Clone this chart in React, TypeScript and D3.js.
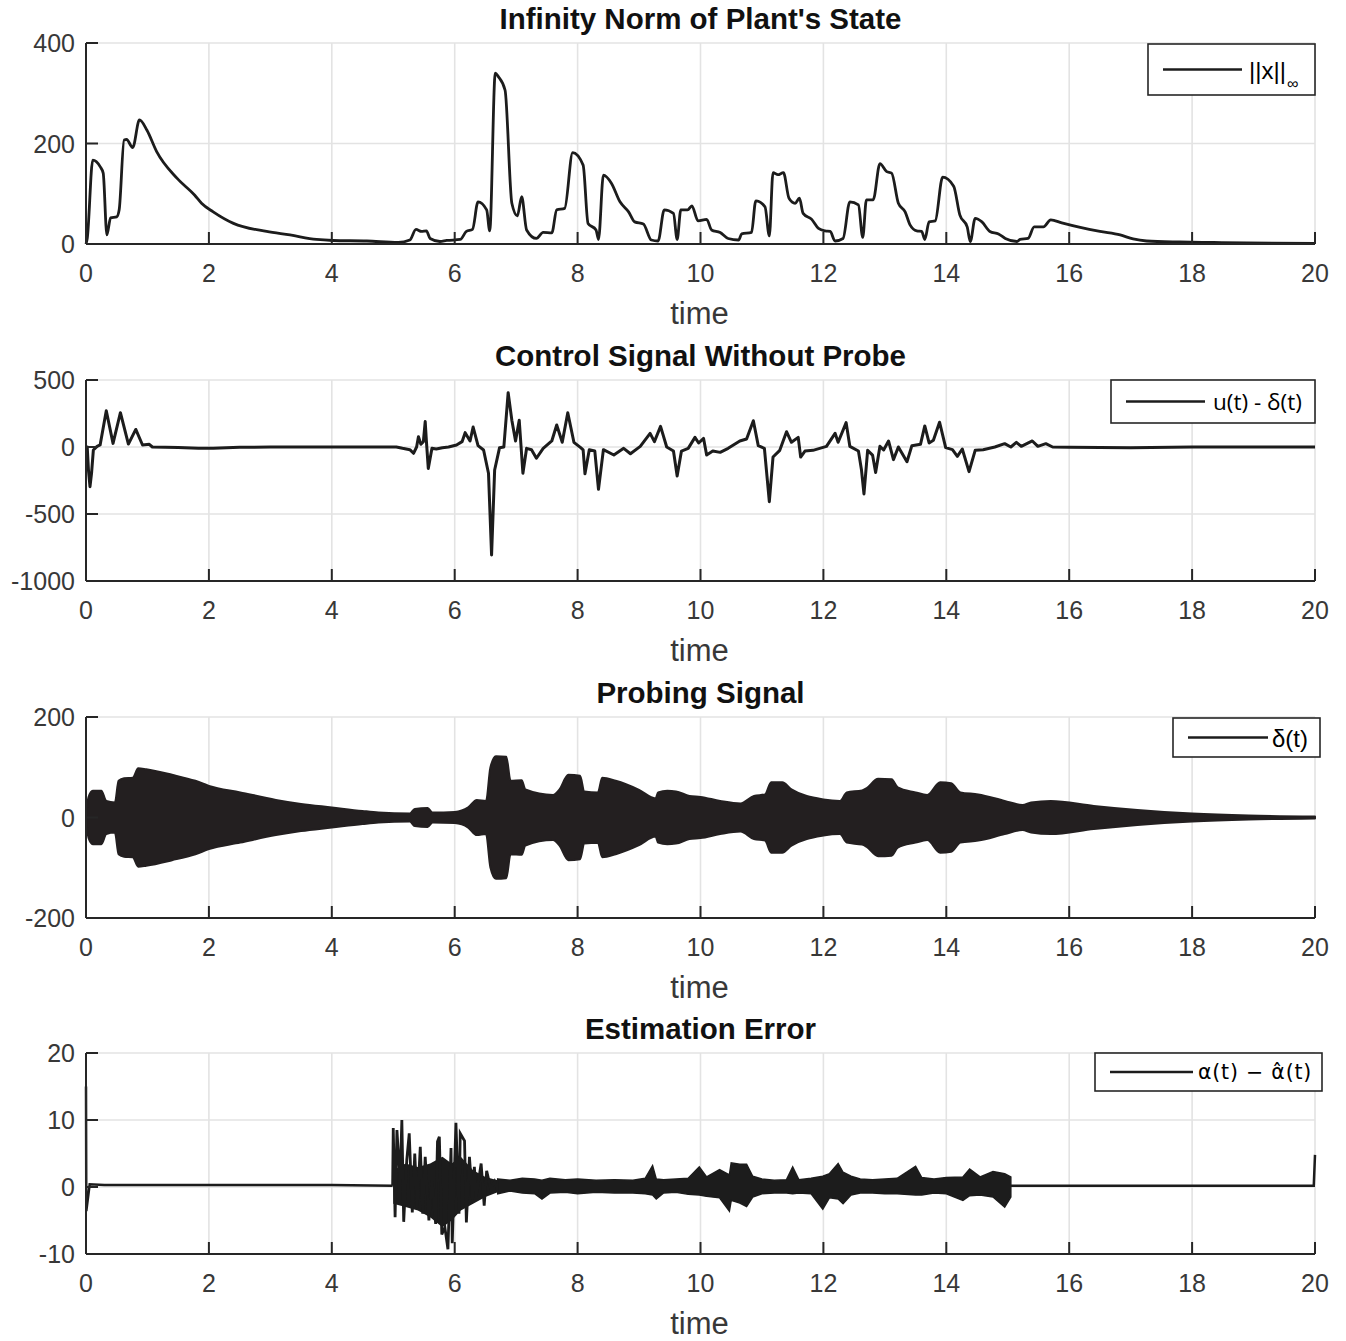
import * as d3 from "d3";

// ---- data ----
const timeTicks = [0, 2, 4, 6, 8, 10, 12, 14, 16, 18, 20];

const normTicks = [0, 200, 400];
const normX: [number, number][] = [
  [0, 0], [0.02, 11], [0.11, 167], [0.23, 154], [0.28, 141], [0.34, 18], [0.4, 52], [0.5, 54],
  [0.54, 68], [0.62, 207], [0.66, 208], [0.76, 192], [0.87, 247], [0.99, 227], [1.15, 184],
  [1.48, 131], [1.77, 97], [1.88, 81], [2.07, 64], [2.4, 41], [2.94, 25], [3.32, 18], [3.75, 9],
  [4.02, 7], [4.57, 6], [5.08, 3], [5.27, 8], [5.37, 29], [5.46, 25], [5.54, 26], [5.6, 11],
  [5.76, 5], [5.87, 7], [6.09, 9], [6.19, 25], [6.29, 29], [6.38, 84], [6.52, 68], [6.57, 26],
  [6.66, 340], [6.71, 333], [6.82, 306], [6.93, 81], [7.02, 56], [7.09, 94], [7.17, 28],
  [7.33, 11], [7.44, 23], [7.58, 22], [7.66, 68], [7.79, 71], [7.92, 182], [8.09, 157],
  [8.17, 41], [8.3, 28], [8.34, 9], [8.42, 137], [8.55, 121], [8.69, 84], [8.83, 64], [8.93, 44],
  [9.07, 40], [9.2, 8], [9.31, 6], [9.41, 68], [9.56, 61], [9.62, 9], [9.68, 68], [9.79, 68],
  [9.86, 76], [9.96, 46], [10.1, 49], [10.18, 28], [10.32, 23], [10.45, 11], [10.62, 8],
  [10.67, 20], [10.83, 23], [10.9, 86], [11.05, 74], [11.12, 16], [11.18, 142], [11.26, 138],
  [11.35, 142], [11.44, 91], [11.54, 81], [11.61, 91], [11.67, 61], [11.81, 49], [11.92, 31],
  [12.03, 26], [12.11, 25], [12.19, 6], [12.32, 11], [12.43, 84], [12.57, 78], [12.64, 13],
  [12.7, 88], [12.81, 88], [12.92, 160], [13.03, 144], [13.11, 141], [13.22, 81], [13.33, 64],
  [13.41, 38], [13.52, 26], [13.6, 25], [13.65, 9], [13.72, 44], [13.82, 46], [13.94, 133],
  [14.12, 115], [14.22, 58], [14.34, 34], [14.39, 5], [14.47, 51], [14.58, 44], [14.71, 25],
  [14.85, 20], [14.96, 11], [15.15, 5], [15.2, 9], [15.33, 11], [15.43, 34], [15.58, 34],
  [15.7, 48], [15.88, 42], [16.18, 33], [16.5, 25], [16.83, 18], [17.04, 10], [17.26, 6],
  [17.8, 4], [18.35, 3], [18.89, 2], [20, 1],
];

const ctrlTicks = [-1000, -500, 0, 500];
const ctrlSignal: [number, number][] = [
  [0, 0], [0.02, 0], [0.04, -172], [0.065, -296], [0.09, -196], [0.12, -22], [0.18, 5], [0.23, 15],
  [0.33, 270], [0.44, 27], [0.56, 256], [0.69, 22], [0.81, 131], [0.92, 15], [1.03, 20], [1.08, 0],
  [1.5, -3], [1.83, -10], [2.07, -10], [2.5, -2], [3, 0], [4, 0], [5.05, 0], [5.15, -10],
  [5.27, -20], [5.33, -47], [5.38, 0], [5.41, 77], [5.45, 20], [5.49, 40], [5.52, 190], [5.54, 40],
  [5.57, -160], [5.63, -10], [5.7, -15], [5.8, -5], [5.9, 0], [6.03, 15], [6.12, 40], [6.17, 107],
  [6.25, 45], [6.3, 149], [6.38, 10], [6.47, -22], [6.55, -196], [6.6, -806], [6.65, -172],
  [6.73, -5], [6.8, 0], [6.87, 405], [6.93, 200], [6.99, 45], [7.05, 200], [7.11, -196],
  [7.17, -10], [7.25, -20], [7.33, -84], [7.44, -10], [7.58, 45], [7.66, 164], [7.75, 35],
  [7.84, 256], [7.94, 35], [8.05, -5], [8.09, -22], [8.12, -200], [8.19, -20], [8.28, -30],
  [8.34, -316], [8.42, -20], [8.59, -60], [8.75, -10], [8.86, -50], [9.02, 5], [9.18, 102],
  [9.25, 40], [9.35, 154], [9.45, 0], [9.56, -30], [9.62, -216], [9.69, -30], [9.8, -10],
  [9.91, 72], [9.97, 30], [10.05, 64], [10.1, -60], [10.2, -30], [10.32, -40], [10.45, -10],
  [10.64, 45], [10.75, 60], [10.86, 196], [10.94, 10], [11.04, -10], [11.12, -408], [11.18, -75],
  [11.29, -25], [11.4, 114], [11.48, 35], [11.59, 72], [11.63, -75], [11.7, -30], [11.83, -25],
  [12.05, 5], [12.19, 102], [12.24, 35], [12.37, 182], [12.43, 5], [12.57, -30], [12.62, -172],
  [12.66, -350], [12.72, -25], [12.8, -60], [12.85, -190], [12.92, 5], [12.98, -22], [13.06, 45],
  [13.14, -94], [13.22, 0], [13.36, -110], [13.44, 10], [13.58, 20], [13.65, 157], [13.72, 30],
  [13.79, 50], [13.89, 185], [13.99, -5], [14.1, -20], [14.18, -70], [14.26, -15], [14.37, -184],
  [14.47, -25], [14.6, -20], [14.79, 0], [14.95, 25], [15.05, 0], [15.14, 35], [15.22, 5],
  [15.4, 45], [15.49, 5], [15.62, 25], [15.73, 0], [16, -2], [17, -5], [18, 0], [20, 0],
];

// amplitude envelope of the (dense) probing sinusoid
const probeTicks = [-200, 0, 200];
const probeEnvelope: [number, number][] = [
  [0, 0], [0.04, 40], [0.11, 53], [0.25, 53], [0.33, 33], [0.47, 30], [0.53, 73], [0.62, 78],
  [0.76, 79], [0.85, 98], [0.98, 96], [1.4, 85], [1.78, 73], [2, 63], [2.51, 50], [3.09, 35],
  [3.5, 27], [4, 20], [4.5, 13], [4.76, 10], [5.27, 8], [5.35, 17], [5.56, 19], [5.64, 10],
  [6, 11], [6.22, 20], [6.36, 35], [6.51, 33], [6.58, 99], [6.67, 122], [6.84, 121], [6.91, 73],
  [7.09, 74], [7.15, 56], [7.6, 45], [7.7, 55], [7.85, 85], [8.04, 83], [8.11, 52], [8.33, 50],
  [8.4, 79], [8.62, 73], [9, 55], [9.27, 38], [9.31, 50], [9.46, 53], [9.6, 52], [9.82, 43],
  [10, 41], [10.32, 33], [10.65, 28], [10.87, 43], [11.05, 46], [11.15, 70], [11.33, 70],
  [11.48, 56], [12, 36], [12.27, 33], [12.38, 50], [12.63, 54], [12.7, 58], [12.89, 77],
  [13.11, 76], [13.21, 60], [13.5, 50], [13.69, 45], [13.9, 70], [14.08, 68], [14.23, 50],
  [14.52, 46], [14.95, 33], [15.24, 25], [15.38, 30], [15.7, 33], [16.4, 23], [17.11, 15],
  [18, 8], [18.92, 4], [20, 2],
];

const errTicks = [-10, 0, 10, 20];
const errStart: [number, number][] = [
  [0, 15], [0.005, -3.6], [0.06, 0.4], [0.3, 0.3], [1, 0.3], [2, 0.3], [3, 0.3], [4, 0.3],
  [4.99, 0.2],
];
const errBurst: [number, number][] = [
  [4.99, 0.2], [5.0, 8.8], [5.03, -4.5], [5.06, 8.5], [5.11, 0.8], [5.14, 10], [5.17, -5.2],
  [5.22, 4], [5.26, 8], [5.31, -3.8], [5.35, 5], [5.39, -3], [5.44, 6], [5.48, -4], [5.52, 4.5],
  [5.58, -5], [5.63, 1], [5.69, -5.5], [5.72, 6.8], [5.75, 7.5], [5.79, -7.1], [5.84, -6],
  [5.89, -9.3], [5.94, 5.8], [5.96, -8.4], [6.02, 9.6], [6.07, -4], [6.09, 8], [6.16, 6.9],
  [6.19, -5.3], [6.24, 4.5], [6.29, -2], [6.32, 3], [6.35, -1.4], [6.43, 3.5], [6.48, -2.8],
  [6.52, 2.4], [6.59, -0.4], [6.65, 0.8], [6.7, -0.5],
];
// dark core where the burst's oscillations overlap
const errBurstCore: [number, number, number][] = [
  [5.0, 2.5, -2.5], [5.2, 3.5, -3], [5.4, 3, -3.5], [5.6, 3.5, -4.5], [5.8, 4.5, -6],
  [5.95, 3.5, -5], [6.1, 4.5, -3.5], [6.3, 2.5, -2.5], [6.5, 1.5, -1.5], [6.7, 1, -0.8],
];
// upper / lower edges of the dense noise band
const errBand: [number, number, number][] = [
  [6.7, 1.2, -1.0], [6.9, 1.0, -0.6], [7.1, 1.3, -0.9], [7.3, 1.2, -1.0], [7.42, 1.0, -1.8],
  [7.55, 1.3, -0.9], [7.8, 1.1, -0.8], [8.0, 1.2, -1.0], [8.3, 1.0, -0.8], [8.6, 1.1, -0.9],
  [8.9, 1.0, -0.9], [9.1, 1.3, -1.0], [9.22, 3.2, -1.2], [9.28, 1.2, -1.8], [9.4, 1.1, -0.9],
  [9.6, 1.2, -0.8], [9.8, 1.3, -1.1], [9.98, 3.0, -1.2], [10.1, 1.5, -1.4], [10.31, 2.6, -1.6],
  [10.47, 1.8, -3.6], [10.5, 3.6, -2.0], [10.64, 3.4, -2.4], [10.75, 3.4, -2.9], [10.85, 1.6, -1.5],
  [11.0, 1.2, -1.0], [11.2, 1.0, -0.9], [11.4, 1.1, -0.9], [11.5, 3.0, -1.0], [11.6, 1.1, -0.9],
  [11.8, 1.3, -1.0], [11.99, 1.6, -3.3], [12.1, 2.0, -1.6], [12.24, 3.5, -1.8], [12.32, 2.2, -2.5],
  [12.45, 1.6, -1.2], [12.6, 1.2, -0.9], [12.8, 1.1, -0.9], [13.0, 1.2, -1.0], [13.2, 1.3, -1.0],
  [13.5, 3.1, -1.2], [13.6, 1.4, -1.2], [13.8, 1.2, -0.9], [14.0, 1.4, -1.0], [14.27, 1.5, -2.0],
  [14.38, 2.7, -1.3], [14.55, 1.5, -1.2], [14.76, 2.3, -1.5], [14.95, 2.0, -3.0], [15.05, 1.5, -1.5],
];
const errTail: [number, number][] = [
  [15.05, 0.2], [16, 0.2], [17, 0.2], [18, 0.2], [19, 0.2], [19.98, 0.2], [20, 4.8],
];

// ---- layout ----
const W = 1346;
const H = 1341;
const left = 86;
const right = 1315;
const plotH = 201;
const tops = [43, 380, 717, 1053];
const ink = "#262626";
const tickInk = "#383838";
const lineColor = "#1c1c1c";
const grid = "#e3e3e3";
const font = "'Liberation Sans', Arial, Helvetica, sans-serif";

const x = d3.scaleLinear().domain([0, 20]).range([left, right]);

type PanelProps = {
  top: number;
  title: string;
  yDomain: [number, number];
  yTicks: number[];
  children: (y: d3.ScaleLinear<number, number>) => React.ReactNode;
};

function Panel({ top, title, yDomain, yTicks, children }: PanelProps) {
  const bottom = top + plotH;
  const y = d3.scaleLinear().domain(yDomain).range([bottom, top]);
  return (
    <g>
      {timeTicks.map((t) => (
        <line key={"gx" + t} x1={x(t)} x2={x(t)} y1={top} y2={bottom} stroke={grid} strokeWidth={1.6} />
      ))}
      {yTicks.map((v) => (
        <line key={"gy" + v} x1={left} x2={right} y1={y(v)} y2={y(v)} stroke={grid} strokeWidth={1.6} />
      ))}
      {children(y)}
      <line x1={left} x2={left} y1={top} y2={bottom} stroke={ink} strokeWidth={2} />
      <line x1={left} x2={right} y1={bottom} y2={bottom} stroke={ink} strokeWidth={2} />
      {timeTicks.map((t) => (
        <g key={"tx" + t}>
          <line x1={x(t)} x2={x(t)} y1={bottom} y2={bottom - 12} stroke={ink} strokeWidth={2} />
          <text x={x(t)} y={bottom + 38} textAnchor="middle" fontSize={25} fill={tickInk} fontFamily={font}>
            {t}
          </text>
        </g>
      ))}
      {yTicks.map((v) => (
        <g key={"ty" + v}>
          <line x1={left} x2={left + 12} y1={y(v)} y2={y(v)} stroke={ink} strokeWidth={2} />
          <text x={left - 11} y={y(v) + 9} textAnchor="end" fontSize={25} fill={tickInk} fontFamily={font}>
            {v}
          </text>
        </g>
      ))}
      <text x={(left + right) / 2} y={top - 14} textAnchor="middle" fontSize={29.5} fontWeight="bold" fill="#111" fontFamily={font}>
        {title}
      </text>
      <text x={(left + right) / 2 - 1} y={bottom + 80} textAnchor="middle" fontSize={31} fill={tickInk} fontFamily={font}>
        time
      </text>
    </g>
  );
}

function Legend({ x0, y0, w, h, l1, l2, children }: { x0: number; y0: number; w: number; h: number; l1: number; l2: number; children: React.ReactNode }) {
  return (
    <g>
      <rect x={x0} y={y0} width={w} height={h} fill="#fff" stroke={ink} strokeWidth={1.6} />
      <line x1={l1} x2={l2} y1={y0 + h / 2} y2={y0 + h / 2} stroke={lineColor} strokeWidth={2.5} />
      {children}
    </g>
  );
}

export default function App() {
  return (
    <svg width={W} height={H} style={{ position: "absolute", left: 0, top: 0, background: "#fff" }}>
      <rect width={W} height={H} fill="#fff" />

      <Panel top={tops[0]} title="Infinity Norm of Plant's State" yDomain={[0, 400]} yTicks={normTicks}>
        {(y) => (
          <g>
            <path
              d={d3.line<[number, number]>().x((d) => x(d[0])).y((d) => y(d[1])).curve(d3.curveMonotoneX)(normX) || ""}
              fill="none"
              stroke={lineColor}
              strokeWidth={2.8}
              strokeLinejoin="round"
            />
            <Legend x0={1148} y0={44} w={167} h={51} l1={1163} l2={1242}>
              <text x={1249} y={79} fontSize={24} fill="#000" fontFamily={font}>||x||</text>
              <text x={1287} y={89} fontSize={16} fill="#000" fontFamily={font}>∞</text>
            </Legend>
          </g>
        )}
      </Panel>

      <Panel top={tops[1]} title="Control Signal Without Probe" yDomain={[-1000, 500]} yTicks={ctrlTicks}>
        {(y) => (
          <g>
            <path d={d3.line<[number, number]>().x((d) => x(d[0])).y((d) => y(d[1]))(ctrlSignal) || ""} fill="none" stroke={lineColor} strokeWidth={3} strokeLinejoin="round" />
            <Legend x0={1111} y0={380} w={204} h={43} l1={1126} l2={1205}>
              <text x={1213} y={410} fontSize={22.5} fill="#000" fontFamily="'Open Sans', 'DejaVu Sans', sans-serif">u(t) - δ(t)</text>
            </Legend>
          </g>
        )}
      </Panel>

      <Panel top={tops[2]} title="Probing Signal" yDomain={[-200, 200]} yTicks={probeTicks}>
        {(y) => (
          <g>
            <path
              d={d3.area<[number, number]>().x((d) => x(d[0])).y0((d) => y(-d[1])).y1((d) => y(d[1])).curve(d3.curveMonotoneX)(probeEnvelope) || ""}
              fill="#231f20"
              stroke="#231f20"
              strokeWidth={2}
              strokeLinejoin="round"
            />
            <Legend x0={1173} y0={718} w={147} h={39} l1={1188} l2={1268}>
              <text x={1272} y={747} fontSize={24} fill="#000" fontFamily={font} textLength={36} lengthAdjust="spacingAndGlyphs">δ(t)</text>
            </Legend>
          </g>
        )}
      </Panel>

      <Panel top={tops[3]} title="Estimation Error" yDomain={[-10, 20]} yTicks={errTicks}>
        {(y) => {
          const ln = d3.line<[number, number]>().x((d) => x(d[0])).y((d) => y(d[1]));
          const band = d3.area<[number, number, number]>().x((d) => x(d[0])).y0((d) => y(d[2])).y1((d) => y(d[1]));
          return (
            <g>
              <path d={ln(errStart) || ""} fill="none" stroke={lineColor} strokeWidth={2.5} />
              <path d={band(errBurstCore) || ""} fill={lineColor} stroke="none" />
              <path d={ln(errBurst) || ""} fill="none" stroke={lineColor} strokeWidth={2.8} strokeLinejoin="miter" />
              <path d={band(errBand) || ""} fill={lineColor} stroke={lineColor} strokeWidth={1.5} />
              <path d={ln(errTail) || ""} fill="none" stroke={lineColor} strokeWidth={2.5} />
              <Legend x0={1095} y0={1053} w={227} h={38} l1={1110} l2={1193}>
                <text x={1198} y={1079} fontSize={20.5} fill="#000" fontFamily="'DejaVu Sans', sans-serif" letterSpacing={0.8}>
                  α(t) − α̂(t)
                </text>
              </Legend>
            </g>
          );
        }}
      </Panel>
    </svg>
  );
}
